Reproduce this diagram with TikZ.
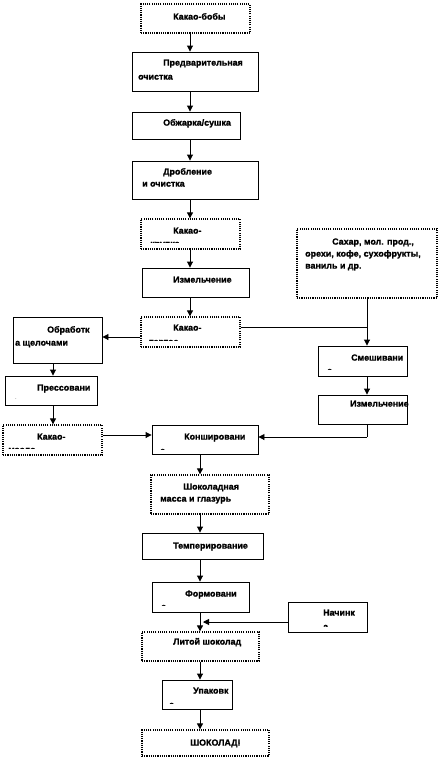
\documentclass[tikz,border=0pt]{standalone}
\usepackage{fontspec}
\setmainfont{Liberation Sans}[BoldFeatures={FakeBold=1.2}]
\usetikzlibrary{arrows.meta,calc}
\begin{document}
\begin{tikzpicture}[x=1pt,y=-1pt,
  solidbox/.style={draw=black,line width=0.9pt,inner sep=0pt,fill=white},
  dotbox/.style={draw=black,line width=1.3pt,dash pattern=on 1.1pt off 1.1pt,inner sep=0pt},
  txt/.style={anchor=mid west,inner sep=0pt,font=\fontsize{8.9}{10}\selectfont\bfseries},
  conn/.style={line width=0.9pt},
  arr/.style={line width=0.9pt,-{Triangle[length=6pt,width=6pt]}}]
\useasboundingbox (0,0) rectangle (439,763);
\fill[white] (0,0) rectangle (439,763);
\newcommand\mkbox[6]{\node[#1,minimum width={#4-#2},minimum height={#5-#3}] (#6) at ({(#2+#4)/2},{(#3+#5)/2}) {};}
% ---- boxes ----
\mkbox{dotbox}{141}{4}{250}{33}{bobs}
\mkbox{solidbox}{132}{52}{258}{91}{pred}
\mkbox{solidbox}{132}{112}{240}{139}{obzh}
\mkbox{solidbox}{132}{161}{258}{199}{drob}
\mkbox{dotbox}{141}{219}{240}{249}{krup}
\mkbox{solidbox}{142}{268}{249}{297}{izm}
\mkbox{dotbox}{141}{317}{240}{347}{tert}
\mkbox{solidbox}{13}{317}{102}{363}{obrab}
\mkbox{solidbox}{5}{376}{97}{405}{press}
\mkbox{dotbox}{3}{425}{102}{455}{maslo}
\mkbox{dotbox}{297}{229}{437}{298}{sahar}
\mkbox{solidbox}{318}{346}{407}{376}{smesh}
\mkbox{solidbox}{318}{395}{407}{424}{izmb}
\mkbox{solidbox}{152}{425}{258}{454}{konsh}
\mkbox{dotbox}{151}{475}{269}{514}{shok}
\mkbox{solidbox}{142}{533}{263}{559}{temp}
\mkbox{solidbox}{152}{582}{249}{612}{form}
\mkbox{solidbox}{288}{602}{367}{632}{nach}
\mkbox{dotbox}{142}{632}{259}{661}{lit}
\mkbox{solidbox}{162}{680}{232}{709}{upak}
\mkbox{dotbox}{142}{730}{269}{756}{fin}
% ---- texts ----
\node[txt] (t1) at (173,17) {Какао-бобы};
\node[txt] (t2) at (163,63) {Предварительная};
\node[txt] (t3) at (138,77) {очистка};
\node[txt] (t4) at (163,123) {Обжарка/сушка};
\node[txt] (t5) at (163,172) {Дробление};
\node[txt] (t6) at (142,184) {и очистка};
\node[txt] (t7) at (173,231) {Какао-};
\begin{scope}\clip (141,219) rectangle (240,242.5);
\node[txt] (t8) at (150,244) {крупка};
\end{scope}
\node[txt] (t9) at (173,280) {Измельчение};
\node[txt] (t10) at (173,328) {Какао-};
\begin{scope}\clip (141,317) rectangle (240,340.5);
\node[txt] (t11) at (149,342) {тертое};
\end{scope}
\node[txt] (t12) at (47,330) {Обработк};
\node[txt] (t13) at (15,343) {а щелочами};
\node[txt] (t14) at (37,388) {Прессовани};
\begin{scope}\clip (5,376) rectangle (97,398.5);
\node[txt] (t15) at (13,401) {е};
\end{scope}
\node[txt] (t16) at (37,437) {Какао-};
\begin{scope}\clip (3,425) rectangle (102,448.5);
\node[txt] (t17) at (8,450) {масло};
\end{scope}
\node[txt] (t18) at (332,242) {Сахар, мол. прод.,};
\node[txt] (t19) at (305,254) {орехи, кофе, сухофрукты,};
\node[txt] (t20) at (305,266) {ваниль и др.};
\node[txt] (t21) at (351,358) {Смешивани};
\begin{scope}\clip (318,346) rectangle (407,369.5);
\node[txt] (t22) at (327,371) {е};
\end{scope}
\node[txt] (t23) at (350,404) {Измельчение};
\node[txt] (t24) at (184,437) {Коншировани};
\begin{scope}\clip (152,425) rectangle (258,449);
\node[txt] (t25) at (160,451) {е};
\end{scope}
\node[txt] (t26) at (183,487) {Шоколадная};
\node[txt] (t27) at (160,499) {масса и глазурь};
\node[txt] (t28) at (173,546) {Темперирование};
\node[txt] (t29) at (185,594) {Формовани};
\begin{scope}\clip (152,582) rectangle (249,605);
\node[txt] (t30) at (161,607) {е};
\end{scope}
\node[txt] (t31) at (173,642) {Литой шоколад};
\node[txt] (t32) at (193,691) {Упаковк};
\begin{scope}\clip (162,680) rectangle (232,703);
\node[txt] (t33) at (169,705) {а};
\end{scope}
\node[txt] (t34) at (190,743) {ШОКОЛАД!};
\node[txt] (t35) at (323,613) {Начинк};
\begin{scope}\clip (288,602) rectangle (367,626);
\node[txt] (t36) at (323,627) {а};
\end{scope}
% ---- connector columns ----
\coordinate (cA) at (190,0);
\coordinate (cB) at (53,0);
\coordinate (cC) at (367,0);
\coordinate (cD) at (200,0);
\coordinate (yT) at (0,327);
\coordinate (yO) at (0,337);
\coordinate (yM) at (0,435);
\coordinate (yK) at (0,437);
\coordinate (yN) at (0,622);
\coordinate (jn) at (367,327);
\coordinate (jk) at (367,437);
\coordinate (nend) at (203,622);
% ---- connectors ----
\draw[arr] (cA |- bobs.south) -- (cA |- pred.north);
\draw[arr] (cA |- pred.south) -- (cA |- obzh.north);
\draw[arr] (cA |- obzh.south) -- (cA |- drob.north);
\draw[arr] (cA |- drob.south) -- (cA |- krup.north);
\draw[arr] (cA |- krup.south) -- (cA |- izm.north);
\draw[arr] (cA |- izm.south) -- (cA |- tert.north);
\draw[arr] (tert.west |- yO) -- (obrab.east |- yO);
\draw[arr] (cB |- obrab.south) -- (cB |- press.north);
\draw[arr] (cB |- press.south) -- (cB |- maslo.north);
\draw[arr] (maslo.east |- yM) -- (konsh.west |- yM);
\draw[conn] (tert.east |- yT) -- (jn);
\draw[arr] (cC |- sahar.south) -- (cC |- smesh.north);
\draw[arr] (cC |- smesh.south) -- (cC |- izmb.north);
\draw[conn] (cC |- izmb.south) -- (jk);
\draw[arr] (jk) -- (konsh.east |- yK);
\draw[arr] (cD |- konsh.south) -- (cD |- shok.north);
\draw[arr] (cD |- shok.south) -- (cD |- temp.north);
\draw[arr] (cD |- temp.south) -- (cD |- form.north);
\draw[arr] (cD |- form.south) -- (cD |- lit.north);
\draw[arr] (nach.west |- yN) -- (nend);
\draw[arr] (cD |- lit.south) -- (cD |- upak.north);
\draw[arr] (cD |- upak.south) -- (cD |- fin.north);
\end{tikzpicture}
\end{document}
